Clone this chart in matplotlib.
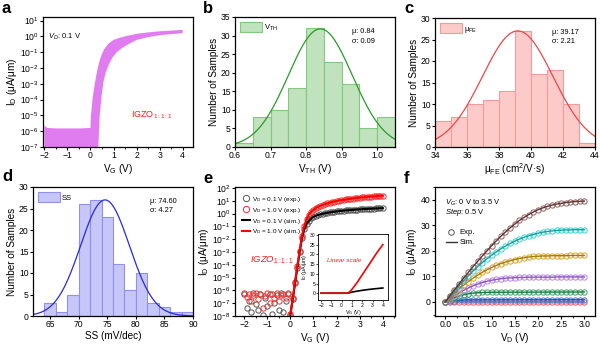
import numpy as np
import matplotlib
matplotlib.use("Agg")
import matplotlib.pyplot as plt
from matplotlib.ticker import AutoMinorLocator, MultipleLocator, NullLocator, LogLocator
from matplotlib.lines import Line2D
from matplotlib.patches import Patch

plt.rcParams['font.family'] = ['Liberation Sans', 'DejaVu Sans']
plt.rcParams['mathtext.fontset'] = 'custom'
plt.rcParams['mathtext.rm'] = 'Liberation Sans'
plt.rcParams['mathtext.it'] = 'Liberation Sans:italic'
plt.rcParams['mathtext.bf'] = 'Liberation Sans:bold'
plt.rcParams['axes.linewidth'] = 0.9
plt.rcParams['xtick.direction'] = 'out'
plt.rcParams['ytick.direction'] = 'out'
plt.rcParams['xtick.major.size'] = 2.0
plt.rcParams['ytick.major.size'] = 2.0
plt.rcParams['xtick.minor.size'] = 1.2
plt.rcParams['ytick.minor.size'] = 1.2
plt.rcParams['xtick.major.pad'] = 1.0
plt.rcParams['ytick.major.pad'] = 1.2

# ---- a: transfer curves of many devices (envelope of the band)
a_vg_up = [-2.0, -1.95, -1.85, -1.5, -1.0, -0.5, 0.0, 0.02, 0.1, 0.2, 0.3, 0.4, 0.5,
           0.6, 0.8, 1.0, 1.3, 1.6, 2.0, 2.5, 3.0, 3.5, 4.0]
a_id_up = [2.4e-6, 1.9e-6, 1.6e-6, 1.5e-6, 1.5e-6, 1.5e-6, 1.6e-6, 1e-5, 1.5e-4, 1.3e-3,
           8e-3, 3e-2, 8e-2, 0.16, 0.37, 0.6, 0.85, 1.1, 1.45, 1.8, 2.1, 2.35, 2.6]
a_vg_lo = [-2.0, 0.3, 0.34, 0.4, 0.48, 0.56, 0.66, 0.78, 0.95, 1.14, 1.4, 1.72, 2.0,
           2.5, 3.0, 3.5, 4.0]
a_id_lo = [1e-8, 1e-8, 1e-7, 1e-5, 1.5e-4, 1.3e-3, 5e-3, 1.5e-2, 4.5e-2, 0.1, 0.2, 0.37,
           0.6, 0.9, 1.2, 1.4, 1.6]

# ---- b, c, d: histograms
vth_bins = [0.60, 0.65, 0.70, 0.75, 0.80, 0.85, 0.90, 0.95, 1.00]
vth_counts = [1, 8, 10, 16, 32, 23, 17, 5, 8]
vth_mu, vth_sigma, vth_peak = 0.84, 0.09, 31.8

mu_bins = [34, 35, 36, 37, 38, 39, 40, 41, 42, 43]
mu_counts = [6, 7, 10, 11, 13, 27, 17, 18, 10, 1]
mu_mu, mu_sigma, mu_peak = 39.17, 2.21, 27.0

ss_bins = [64, 66, 68, 70, 72, 74, 76, 78, 80, 82, 84, 86, 88]
ss_counts = [3, 1, 5, 26, 27, 23, 12, 6, 10, 3, 2, 1, 1]
ss_mu, ss_sigma, ss_peak = 74.60, 4.27, 27.0

# ---- e: transfer curves exp/sim, VG from -2 to 4 V in 0.1 V steps
e_vg = np.round(np.linspace(-2, 4, 61), 2)
e_id01 = [5.5e-7, 4e-8, 1.5e-7, 2e-8, 6e-7, 8e-8, 3e-8, 5e-7, 1.2e-8, 2.5e-7,
          6e-8, 5.5e-7, 1.5e-8, 1e-7, 4e-7, 3e-8, 6e-7, 2e-8, 1.5e-7, 5e-7,
          1.2e-8, 2e-7, 3.5e-6, 6e-5, 1e-3, 1.2e-2, 6e-2, 0.15, 0.27, 0.42, 0.56,
          0.67, 0.77, 0.87, 0.96, 1.05, 1.14, 1.23, 1.32, 1.40, 1.48,
          1.56, 1.63, 1.70, 1.77, 1.84, 1.91, 1.97, 2.03, 2.09, 2.15,
          2.21, 2.27, 2.33, 2.38, 2.43, 2.48, 2.53, 2.58, 2.63, 2.68]
e_id10 = [6e-7, 3e-7, 5e-7, 1.5e-7, 4e-7, 6e-7, 2e-7, 5.5e-7, 4e-8, 3.5e-7,
          6e-7, 1e-7, 5e-7, 2.5e-7, 6e-7, 1.5e-7, 4e-7, 5.5e-7, 2.5e-7, 6e-7,
          1.5e-8, 2.5e-7, 4.5e-6, 8e-5, 1.3e-3, 1.8e-2, 0.11, 0.38, 0.85, 1.4, 2.0,
          2.7, 3.4, 4.1, 4.8, 5.5, 6.3, 7.1, 7.9, 8.7, 9.5,
          10.3, 11.1, 11.9, 12.7, 13.5, 14.3, 15.1, 15.9, 16.7, 17.5,
          18.3, 19.1, 19.9, 20.7, 21.5, 22.2, 22.9, 23.6, 24.3, 25.0]

# ---- f: output curves, VD 0 to 3 V in 0.1 V steps, VG 0.5 V to 3.5 V
f_vd = np.round(np.linspace(0, 3, 31), 2)
f_curves = {
    '0.5': [0, 0.01, 0.02, 0.02, 0.03, 0.03, 0.03, 0.03, 0.03, 0.03, 0.03, 0.03, 0.03,
            0.03, 0.03, 0.03, 0.03, 0.03, 0.03, 0.03, 0.03, 0.03, 0.03, 0.03, 0.03, 0.03,
            0.03, 0.03, 0.03, 0.03, 0.03],
    '1.0': [0, 0.3, 0.5, 0.65, 0.75, 0.8, 0.82, 0.83, 0.84, 0.85, 0.85, 0.85, 0.86,
            0.86, 0.86, 0.86, 0.87, 0.87, 0.87, 0.87, 0.88, 0.88, 0.88, 0.88, 0.88, 0.89,
            0.89, 0.89, 0.89, 0.9, 0.9],
    '1.5': [0, 0.9, 1.7, 2.3, 2.8, 3.2, 3.45, 3.6, 3.7, 3.75, 3.78, 3.8, 3.8, 3.81,
            3.82, 3.82, 3.83, 3.83, 3.84, 3.84, 3.85, 3.85, 3.86, 3.86, 3.87, 3.87, 3.88,
            3.88, 3.89, 3.89, 3.9],
    '2.0': [0, 1.3, 2.5, 3.6, 4.6, 5.5, 6.3, 7.0, 7.6, 8.1, 8.5, 8.8, 9.1, 9.3, 9.4,
            9.5, 9.6, 9.6, 9.7, 9.7, 9.7, 9.7, 9.7, 9.7, 9.8, 9.8, 9.8, 9.8, 9.8, 9.8, 9.8],
    '2.5': [0, 1.8, 3.5, 5.1, 6.6, 8.0, 9.3, 10.5, 11.6, 12.6, 13.5, 14.3, 15.0, 15.6,
            16.1, 16.6, 17.0, 17.3, 17.6, 17.8, 17.9, 18.0, 18.0, 18.1, 18.1, 18.1, 18.1,
            18.2, 18.2, 18.2, 18.2],
    '3.0': [0, 2.2, 4.3, 6.4, 8.4, 10.3, 12.1, 13.8, 15.4, 16.9, 18.3, 19.6, 20.8, 21.9,
            22.9, 23.8, 24.6, 25.3, 25.9, 26.4, 26.9, 27.3, 27.6, 27.8, 28.0, 28.1, 28.2,
            28.2, 28.3, 28.3, 28.3],
    '3.5': [0, 2.4, 4.8, 7.1, 9.4, 11.6, 13.8, 15.9, 18.0, 20.0, 22.0, 23.9, 25.7, 27.4,
            29.0, 30.5, 31.9, 33.1, 34.2, 35.2, 36.1, 36.8, 37.4, 37.9, 38.3, 38.6, 38.9,
            39.1, 39.3, 39.4, 39.5],
}
f_mark_colors = ['#ee5466', '#3b7ce2', '#3aa564', '#b984ea', '#dca424', '#35d2d2', '#936060']
f_line_colors = ['#c83848', '#1f56b8', '#1d7a44', '#8c55c8', '#a87a10', '#15a0a0', '#5e3434']


def box(l, t, r, b):
    return [l / 600, 1 - b / 344, (r - l) / 600, (b - t) / 344]


def style(ax, fs=6.2):
    ax.tick_params(labelsize=fs, width=0.8)
    ax.tick_params(which='minor', width=0.6)


fig = plt.figure(figsize=(6, 3.44), dpi=100)
LFS = 7.2

# ---------------- a
ax = fig.add_axes(box(43, 17, 193, 147))
ax.set_yscale('log')
ax.fill(np.concatenate([a_vg_up, a_vg_lo[::-1]]),
        np.concatenate([a_id_up, a_id_lo[::-1]]), color='#e07cf0', lw=0)
ax.set_xlim(-2.06, 4.45)
ax.set_ylim(1e-7, 17)
ax.set_xticks(range(-2, 5))
ax.set_xticklabels(['\u22122', '\u22121', '0', '1', '2', '3', '4'])
ax.xaxis.set_minor_locator(AutoMinorLocator(2))
ax.yaxis.set_major_locator(LogLocator(base=10, numticks=12))
ax.yaxis.set_minor_locator(NullLocator())
style(ax)
ax.set_xlabel('V$_\\mathrm{G}$ (V)', fontsize=LFS, labelpad=1)
ax.set_ylabel('I$_\\mathrm{D}$ (\u03bcA/\u03bcm)', fontsize=LFS, labelpad=1)
ax.text(0.03, 0.85, '$V_D$: 0.1 V', transform=ax.transAxes, fontsize=5.5, va='center')
ax.text(1.75, 1e-5, 'IGZO$_\\mathrm{1:1:1}$', color='#ff1a1a', fontsize=6.5, va='center')


# ---------------- histograms
def hist_panel(rect, bins, counts, width, mu, sigma, peak, xlim, ylim, ystep,
               fill, edge, curve_c, label, xlabel, xticks, xfmt):
    ax = fig.add_axes(box(*rect))
    ax.bar(bins, counts, width=width, align='edge', color=fill, edgecolor=edge, lw=0.8)
    xs = np.linspace(xlim[0], xlim[1], 300)
    ax.plot(xs, peak * np.exp(-(xs - mu) ** 2 / (2 * sigma ** 2)), color=curve_c, lw=0.9)
    ax.set_xlim(*xlim)
    ax.set_ylim(*ylim)
    ax.yaxis.set_major_locator(MultipleLocator(ystep))
    ax.set_xticks(xticks)
    ax.set_xticklabels([xfmt.format(v) for v in xticks])
    style(ax)
    ax.set_ylabel('Number of Samples', fontsize=LFS, labelpad=1)
    ax.set_xlabel(xlabel, fontsize=LFS, labelpad=1)
    ax.legend(handles=[Patch(facecolor=fill, edgecolor=edge, lw=0.8, label=label)],
              loc='upper left', bbox_to_anchor=(0.0, 1.0), frameon=False, fontsize=5.5,
              handlelength=2.8, handleheight=1.5, borderaxespad=0.3, handletextpad=0.3)
    ax.text(0.73, 0.885, '\u03bc: {:.2f}'.format(mu), transform=ax.transAxes,
            fontsize=5.3, va='center')
    ax.text(0.73, 0.815, '\u03c3: {:.2f}'.format(sigma), transform=ax.transAxes,
            fontsize=5.3, va='center')
    return ax


hist_panel((235, 17, 395, 147), vth_bins, vth_counts, 0.05, vth_mu, vth_sigma, vth_peak,
           (0.6, 1.05), (0, 35), 5, '#c0e2bd', '#82c880', '#2a9a2a', 'V$_\\mathrm{TH}$',
           'V$_\\mathrm{TH}$ (V)', [0.6, 0.7, 0.8, 0.9, 1.0], '{:.1f}')
hist_panel((435, 18, 595, 147), mu_bins, mu_counts, 1, mu_mu, mu_sigma, mu_peak,
           (34, 44), (0, 30), 5, '#fdcaca', '#f39a9a', '#ee4646', '\u03bc$_\\mathrm{FE}$',
           '\u03bc$_\\mathrm{FE}$ (cm$^2$/V\u00b7s)', [34, 36, 38, 40, 42, 44], '{}')
hist_panel((33, 187, 193, 316), ss_bins, ss_counts, 2, ss_mu, ss_sigma, ss_peak,
           (62, 90), (0, 30), 5, '#c6c6f8', '#9090ee', '#2828e8', 'SS',
           'SS (mV/dec)', [65, 70, 75, 80, 85, 90], '{}')

# ---------------- e
ax = fig.add_axes(box(235, 187, 395, 316))
ax.set_yscale('log')
ax.plot(e_vg, e_id01, 'o', mfc='none', mec='#555555', ms=3.8, mew=0.7)
ax.plot(e_vg, e_id10, 'o', mfc='none', mec='#ff2a2a', ms=3.8, mew=0.7)
ax.plot(e_vg[20:], e_id01[20:], '-', color='black', lw=1.5)
ax.plot(e_vg[20:], e_id10[20:], '-', color='#ff0000', lw=1.5)
ax.set_xlim(-2.4, 4.53)
ax.set_ylim(1e-8, 1.2e2)
ax.set_xticks(range(-2, 5))
ax.set_xticklabels(['\u22122', '\u22121', '0', '1', '2', '3', '4'])
ax.xaxis.set_minor_locator(AutoMinorLocator(2))
ax.yaxis.set_major_locator(LogLocator(base=10, numticks=12))
ax.yaxis.set_minor_locator(NullLocator())
style(ax)
ax.set_xlabel('V$_\\mathrm{G}$ (V)', fontsize=LFS, labelpad=1)
ax.set_ylabel('I$_\\mathrm{D}$ (\u03bcA/\u03bcm)', fontsize=LFS, labelpad=1)
handles = [
    Line2D([], [], ls='none', marker='o', mfc='none', mec='#555555', ms=4.5, mew=0.7,
           label='V$_\\mathrm{D}$ = 0.1 V (exp.)'),
    Line2D([], [], ls='none', marker='o', mfc='none', mec='#ff2a2a', ms=4.5, mew=0.7,
           label='V$_\\mathrm{D}$ = 1.0 V (exp.)'),
    Line2D([], [], color='black', lw=1.5, label='V$_\\mathrm{D}$ = 0.1 V (sim.)'),
    Line2D([], [], color='#ff0000', lw=1.5, label='V$_\\mathrm{D}$ = 1.0 V (sim.)'),
]
ax.legend(handles=handles, loc='upper left', bbox_to_anchor=(0.02, 0.97), frameon=False,
          fontsize=4.6, handlelength=1.2, labelspacing=0.3, handletextpad=0.4,
          borderaxespad=0.2)
ax.text(-1.75, 2.2e-4, '$\\mathit{IGZO}_{\\mathit{1:1:1}}$', color='#ff1a1a',
        fontsize=6.8, va='center')

# inset
ai = fig.add_axes(box(318, 234, 388, 300))
ai.plot(e_vg, e_id01, '-', color='black', lw=1.2)
ai.plot(e_vg, e_id10, '-', color='#ff0000', lw=1.2)
ai.set_xlim(-2.3, 4.5)
ai.set_ylim(-3.5, 30.5)
ai.set_xticks(range(-2, 5))
ai.set_xticklabels(['\u22122', '\u22121', '0', '1', '2', '3', '4'])
ai.yaxis.set_major_locator(MultipleLocator(5))
ai.tick_params(labelsize=3.6, length=1.2, width=0.5, pad=0.8)
for s in ai.spines.values():
    s.set_linewidth(0.6)
ai.set_xlabel('V$_\\mathrm{G}$ (V)', fontsize=3.8, labelpad=0.5)
ai.set_ylabel('I$_\\mathrm{D}$ (\u03bcA/\u03bcm)', fontsize=3.8, labelpad=0.5)
ai.text(-1.4, 17, 'Linear scale', color='#ff1a1a', fontsize=4.6, style='italic',
        va='center')

# ---------------- f
ax = fig.add_axes(box(435, 187, 595, 316))
for (vg, vals), mc, lc in zip(f_curves.items(), f_mark_colors, f_line_colors):
    ax.plot(f_vd, vals, 'o', mfc='none', mec=mc, ms=3.8, mew=0.7)
    ax.plot(f_vd, vals, '-', color=lc, lw=1.0)
ax.set_xlim(-0.22, 3.23)
ax.set_ylim(-5.5, 45)
ax.xaxis.set_major_locator(MultipleLocator(0.5))
ax.xaxis.set_major_formatter(matplotlib.ticker.FormatStrFormatter('%.1f'))
ax.xaxis.set_minor_locator(AutoMinorLocator(2))
ax.yaxis.set_major_locator(MultipleLocator(10))
ax.yaxis.set_minor_locator(AutoMinorLocator(2))
style(ax)
ax.set_xlabel('V$_\\mathrm{D}$ (V)', fontsize=LFS, labelpad=1)
ax.set_ylabel('I$_\\mathrm{D}$ (\u03bcA/\u03bcm)', fontsize=LFS, labelpad=1)
ax.text(0.06, 0.88, '$V_G$: 0 V to 3.5 V', transform=ax.transAxes, fontsize=5.5, va='center')
ax.text(0.06, 0.80, '$Step$: 0.5 V', transform=ax.transAxes, fontsize=5.5, va='center')
fh = [Line2D([], [], ls='none', marker='o', mfc='none', mec='#555555', ms=4, mew=0.7,
             label='Exp.'),
      Line2D([], [], color='#333333', lw=1.0, label='Sim.')]
ax.legend(handles=fh, loc='upper left', bbox_to_anchor=(0.04, 0.71), frameon=False,
          fontsize=5.5, handlelength=1.4, labelspacing=0.35, handletextpad=0.4,
          borderaxespad=0.2)

# panel letters
for lab, x, y in [('a', 2, 1), ('b', 203, 1), ('c', 404, 1),
                  ('d', 2, 169), ('e', 203, 171), ('f', 404, 171)]:
    fig.text(x / 600, 1 - y / 344, lab, fontsize=12, fontweight='bold', va='top', ha='left')

fig.savefig('out.png', dpi=100)
